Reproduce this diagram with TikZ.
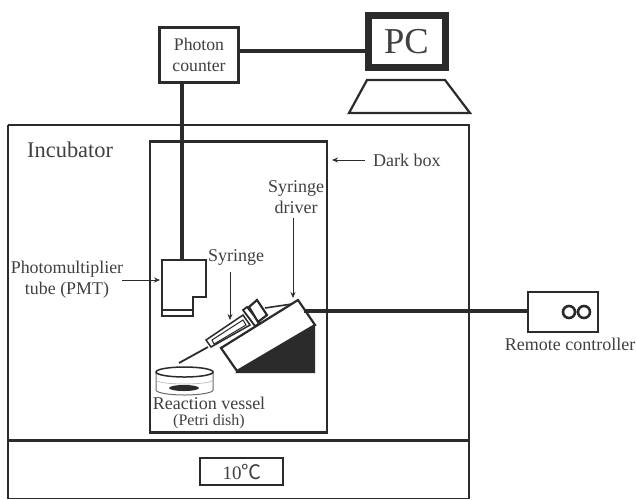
\documentclass[tikz,border=0pt]{standalone}
\usepackage{fontspec}
\setmainfont{Liberation Serif}
\newfontfamily\cjkfont{Noto Sans CJK JP}
\usetikzlibrary{arrows.meta}
\definecolor{ink}{gray}{0.17}
\definecolor{txt}{gray}{0.25}
\tikzset{
  x=1pt,y=-1pt,
  frame/.style={draw=ink,line width=2.4pt,fill=white},
  thin box/.style={draw=ink,line width=2pt,fill=white},
  cable/.style={draw=ink,line width=3.8pt},
  pointer/.style={draw=ink,line width=0.8pt,-{Stealth[length=6pt,width=5pt]}},
  label/.style={text=txt,font=\fontsize{18}{20}\selectfont,inner sep=0pt,align=center},
  part/.style={draw=ink,line width=2.2pt,fill=white,line join=miter}
}
\begin{document}
\begin{tikzpicture}
\useasboundingbox (0,0) rectangle (636,499);
% incubator
\draw[frame] (8,125) -- (8,499);
\draw[frame] (8,125) -- (469,125) -- (469,499);
\draw[draw=ink,line width=1pt] (8,498) -- (469,498);
\draw[draw=ink,line width=3pt] (8,440) -- (469,440);
\node[thin box,minimum width=83pt,minimum height=27pt,inner sep=0pt] (temp) at (241,471) {};
\node[text=txt,font=\fontsize{19}{20}\selectfont,inner sep=0pt] at (242,472) {10{\cjkfont\fontsize{20}{20}\selectfont ℃}};
\node[label,font=\fontsize{22.4}{24}\selectfont,anchor=west] (inc) at (27,150) {Incubator};
% dark box
\node[frame,minimum width=177pt,minimum height=291pt,inner sep=0pt] (dark) at (238.5,287) {};
% photon counter
\node[frame,minimum width=79pt,minimum height=55pt,inner sep=0pt,align=center,text=txt,font=\fontsize{17.7}{21}\selectfont] (pc) at (199,55) {Photon\\counter};
% PC
\node[draw=ink,line width=7pt,fill=white,minimum width=77pt,minimum height=52pt,inner sep=0pt,text=txt,font=\fontsize{36.5}{38}\selectfont] (comp) at (406.5,41.5) {\raisebox{-2pt}{PC}};
\draw[draw=ink,line width=2.2pt,line join=miter] (367,80) -- (445,80) -- (470,113) -- (349,113) -- cycle;
% PMT
\draw[part] (162,260) -- (206,260) -- (206,297) -- (193,297) -- (193,316) -- (162,316) -- cycle;
\draw[draw=ink,line width=1.6pt] (162,310) -- (193,310);
\coordinate (pmttop) at (182,260);
\coordinate (pcin) at (365,51);
\draw[cable] (pc.south -| pmttop) -- (pmttop);
\draw[cable] (pc.east |- pcin) -- (pcin);
% driver
\fill[ink] (315,323) -- (315,373) -- (235,373) -- cycle;
\draw[part] (298,300) -- (315,325) -- (237,371) -- (221,348) -- cycle;
\draw[draw=ink,line width=1.6pt] (265,308) -- (292,304);
% syringe
\draw[draw=ink,line width=1.8pt] (208,347) -- (179,363);
\draw[part,line width=1.5pt] (206,340) -- (243,315) -- (250,325) -- (211,347) -- cycle;
\draw[draw=ink,line width=1pt] (212,340) -- (243,320) -- (246,325) -- (214,344) -- cycle;
\draw[part,line width=1.8pt] (243,310) -- (247,307) -- (260,323) -- (255,326) -- cycle;
\draw[part] (249,307) -- (257,300) -- (267,315) -- (258,322) -- cycle;
% petri dish
\draw[draw=ink!70,line width=1pt,fill=white] (156,372) -- (156,390) arc[start angle=180,end angle=360,x radius=28.5,y radius=-5] -- (213,372);
\draw[draw=ink,line width=1.5pt,fill=white] (184.5,372) ellipse[x radius=28.5,y radius=5];
\draw[draw=gray!60,line width=.6pt] (156,380) arc[start angle=180,end angle=360,x radius=28.5,y radius=-4];
\fill[ink] (184,388) ellipse[x radius=15,y radius=3];
% remote
\node[thin box,minimum width=70pt,minimum height=40pt,inner sep=0pt] (remote) at (563,312) {};
\draw[draw=ink,line width=2.6pt] (569,312) circle[radius=6] (584,312) circle[radius=6];
\coordinate (drv) at (304,311);
\draw[cable] (drv) -- (remote.west |- drv);
% labels
\node[label,anchor=west] (darkl) at (373,160) {Dark box};
\coordinate (darkc) at (332,160);
\coordinate (darks) at (365,160);
\draw[pointer] (darks) -- (darkc);
\node[label,font=\fontsize{18}{21}\selectfont] (drvl) at (296,197) {Syringe\\driver};
\coordinate (drvc) at (293,298);
\coordinate (drvs) at (293,218);
\draw[pointer] (drvs) -- (drvc);
\node[label] (syrl) at (236,257) {Syringe};
\coordinate (syrc) at (230,320);
\coordinate (syrs) at (230,272);
\draw[pointer] (syrs) -- (syrc);
\node[label,font=\fontsize{17.9}{21}\selectfont] (pmtl) at (67,280) {Photomultiplier\\tube (PMT)};
\coordinate (pmtc) at (160,280);
\coordinate (pmts) at (122,280);
\draw[pointer] (pmts) -- (pmtc);
\node[label] (rv) at (209,403) {Reaction vessel};
\node[label,font=\fontsize{16}{18}\selectfont] (pd) at (209,422) {(Petri dish)};
\node[label] (rc) at (570,344) {Remote controller};
\end{tikzpicture}
\end{document}
